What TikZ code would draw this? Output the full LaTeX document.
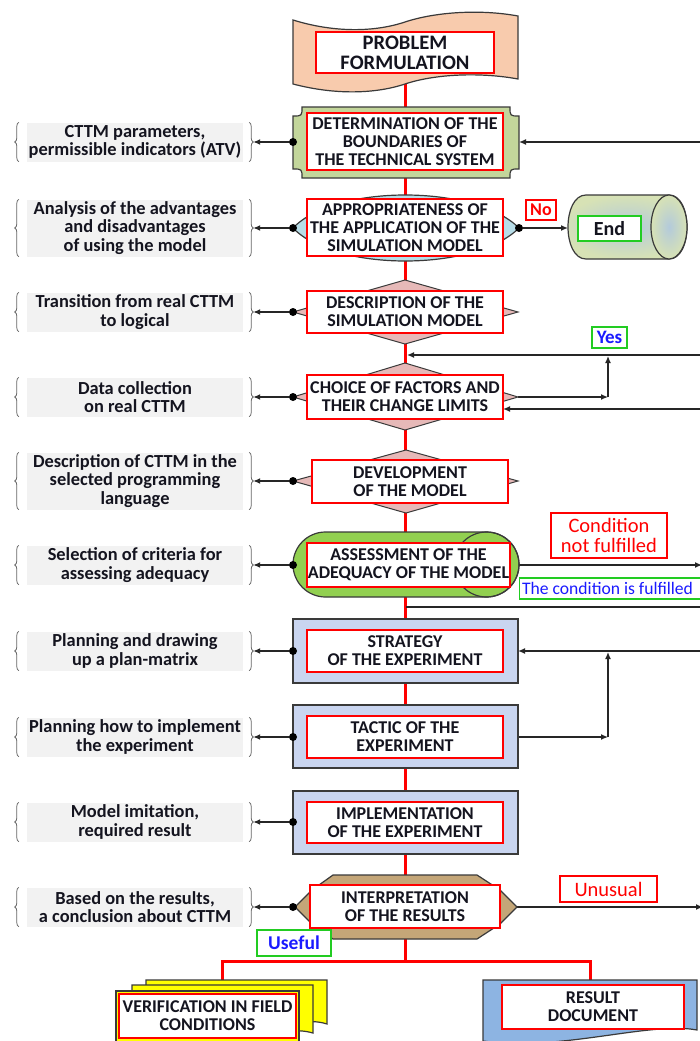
\documentclass[tikz,border=0pt]{standalone}
\usepackage{fontspec}
\setmainfont{Carlito}
\usetikzlibrary{arrows.meta,decorations.pathreplacing}
\pgfdeclarelayer{bg}
\pgfsetlayers{bg,main}
\definecolor{txt}{HTML}{14141F}
\definecolor{sidegray}{HTML}{F2F2F2}
\definecolor{peach}{HTML}{F8CBAD}
\definecolor{olivegreen}{HTML}{C3D69B}
\definecolor{lensblue}{HTML}{B7DDE8}
\definecolor{dpink}{HTML}{E6B9B8}
\definecolor{assgreen}{HTML}{92D050}
\definecolor{lav}{HTML}{C9D5F0}
\definecolor{burlap}{HTML}{C4A678}
\definecolor{docblue}{HTML}{8DB4E2}
\definecolor{endolive}{HTML}{D7E2B5}
\definecolor{endblue}{HTML}{B3CADB}
\definecolor{bord}{HTML}{3A3A3A}
\definecolor{labblue}{HTML}{1A1AFF}
\definecolor{labgreen}{HTML}{22CC22}
\definecolor{docyellow}{HTML}{FFFF00}
\newcommand{\mainfnt}{\fontsize{18}{18}\selectfont\bfseries}
\newcommand{\sidefnt}{\fontsize{18.4}{18.5}\selectfont\bfseries}
\begin{document}
\begin{tikzpicture}[x=1pt,y=-1pt,
  tb/.style={draw=red, line width=1.3pt, fill=white, inner sep=0.5pt, align=center, text=txt, font=\mainfnt, minimum width=196pt},
  side/.style={fill=sidegray, minimum width=216pt, minimum height=39pt, align=center, text=txt, inner sep=0.5pt, font=\sidefnt},
  shp/.style={draw=bord, line width=1.2pt},
  rl/.style={draw=red, line width=3pt},
  bl/.style={draw=black!85, line width=1.3pt},
  arr/.style={bl, -{Latex[length=7pt,width=6pt]}},
  dot/.style={circle, fill=black, inner sep=0pt, minimum size=8pt},
  brc/.style={decorate, decoration={brace, amplitude=4pt}, draw=black!60, line width=0.8pt},
  lab/.style={fill=white, line width=1.2pt, inner sep=2pt, align=center}
]
\useasboundingbox (0,0) rectangle (700,1041);

% ---------- shapes ----------
\draw[shp, fill=peach] (293,20) .. controls (335,33) and (375,32) .. (405,22) .. controls (435,12) and (480,9) .. (518,16) -- (518,79) .. controls (480,72) and (435,74) .. (405,84) .. controls (375,94) and (335,95) .. (293,84) -- cycle;
\draw[shp, fill=olivegreen] (302,107) -- (510,107) .. controls (510,116) .. (519,116) -- (519,169) .. controls (510,169) .. (510,178) -- (302,178) .. controls (302,169) .. (293,169) -- (293,116) .. controls (302,116) .. (302,107) -- cycle;
\draw[shp, fill=lensblue] (293,228) .. controls (335,184) and (475,184) .. (519,228) .. controls (475,272) and (335,272) .. (293,228) -- cycle;
\draw[draw=bord, line width=1pt, fill=dpink] (293,312) -- (405,280) -- (518,312) -- (405,344) -- cycle;
\draw[draw=bord, line width=1pt, fill=dpink] (293,397) -- (405,363) -- (518,397) -- (405,430) -- cycle;
\draw[draw=bord, line width=1pt, fill=dpink] (293,481) -- (406,450) -- (518,481) -- (406,513) -- cycle;
\draw[shp, fill=assgreen, rounded corners=32.5pt] (293,532) rectangle (519,597);
\draw[shp] (486.5,564.5) ellipse [x radius=32.5, y radius=32.5];
\draw[shp, inner color=endblue, outer color=endolive] (586,195) -- (669,195) .. controls (693,195) and (693,259) .. (669,259) -- (586,259) .. controls (562,259) and (562,195) .. (586,195) -- cycle;
\draw[shp, inner color=endblue, outer color=endolive] (669,227) ellipse [x radius=18, y radius=32];
\draw[shp, fill=lav] (293,619) rectangle (518,683);
\draw[shp, fill=lav] (293,705) rectangle (518,768);
\draw[shp, fill=lav] (293,791) rectangle (518,854);
\draw[shp, fill=burlap] (295,907) -- (312,890) -- (333,875) -- (477,875) -- (500,890) -- (517,907) -- (500,924) -- (477,939) -- (333,939) -- (312,924) -- cycle;
\draw[shp, fill=docyellow] (146,980) -- (327,980) -- (327,1024) .. controls (290,1012) and (250,1050) .. (146,1042) -- cycle;
\draw[shp, fill=docyellow] (132,985) -- (313,985) -- (313,1033) .. controls (275,1022) and (235,1055) .. (132,1048) -- cycle;
\draw[shp, fill=docyellow] (116,991) -- (299,991) -- (299,1050) -- (116,1050) -- cycle;
\draw[shp, fill=docblue] (483,980) -- (697,980) -- (697,1030) .. controls (650,1021) and (560,1052) .. (483,1041) -- cycle;

% ---------- main nodes ----------
\node[tb, minimum width=178pt, minimum height=41pt, font=\fontsize{20.6}{20}\selectfont\bfseries] (pf) at (405,52.5) {PROBLEM\\FORMULATION};
\node[tb, minimum height=57pt] (det) at (405,141.5) {DETERMINATION OF THE\\BOUNDARIES OF\\THE TECHNICAL SYSTEM};
\node[tb, minimum height=57pt] (app) at (405,227.5) {APPROPRIATENESS OF\\THE APPLICATION OF THE\\SIMULATION MODEL};
\node[tb, minimum height=42pt] (desc) at (405,312) {DESCRIPTION OF THE\\SIMULATION MODEL};
\node[tb, minimum height=44pt] (choice) at (405,397) {CHOICE OF FACTORS AND\\THEIR CHANGE LIMITS};
\node[tb, minimum height=43pt] (dev) at (410,481.5) {DEVELOPMENT\\OF THE MODEL};
\node[tb, minimum width=203pt, minimum height=44pt] (ass) at (408.5,565) {ASSESSMENT OF THE\\ADEQUACY OF THE MODEL};
\node[tb, minimum height=42pt] (strat) at (405,651) {STRATEGY\\OF THE EXPERIMENT};
\node[tb, minimum height=42pt] (tact) at (405,737) {TACTIC OF THE\\EXPERIMENT};
\node[tb, minimum height=41pt] (impl) at (405,822.5) {IMPLEMENTATION\\OF THE EXPERIMENT};
\node[tb, minimum width=190pt, minimum height=43pt] (interp) at (405,906.5) {INTERPRETATION\\OF THE RESULTS};
\node[tb, minimum width=177pt, minimum height=44pt] (verif) at (207.5,1016) {VERIFICATION IN FIELD\\CONDITIONS};
\node[tb, minimum width=182pt, minimum height=44pt] (res) at (593,1007) {RESULT\\DOCUMENT};
\node[draw=labgreen, line width=1.3pt, fill=white, minimum width=63pt, minimum height=25pt, inner sep=1pt, text=txt, font=\fontsize{20}{20}\selectfont\bfseries] (end) at (609.5,228.5) {End};

% ---------- side notes ----------
\node[side] (s1) at (135,142) {CTTM parameters,\\permissible indicators (ATV)};
\node[side, minimum height=57pt] (s2) at (135,228) {Analysis of the advantages\\and disadvantages\\of using the model};
\node[side] (s3) at (135,312) {Transition from real CTTM\\to logical};
\node[side] (s4) at (135,397) {Data collection\\on real CTTM};
\node[side, minimum height=57pt] (s5) at (135,481) {Description of CTTM in the\\selected programming\\language};
\node[side] (s6) at (135,565) {Selection of criteria for\\assessing adequacy};
\node[side] (s7) at (135,651) {Planning and drawing\\up a plan-matrix};
\node[side] (s8) at (135,737) {Planning how to implement\\the experiment};
\node[side] (s9) at (135,822) {Model imitation,\\required result};
\node[side] (s10) at (135,907) {Based on the results,\\a conclusion about CTTM};

\foreach \i/\y in {1/142,2/228,3/312,4/397,5/481,6/565,7/651,8/737,9/822,10/907}{
  \node[dot] (d\i) at (293,\y) {};
}
\node[dot] (appR) at (519,228) {};

% labels
\node[lab, draw=red, text=red, minimum width=30pt, minimum height=20pt, font=\fontsize{18}{18}\selectfont\bfseries] (no) at (541,210) {No};
\node[lab, draw=labgreen, text=labblue, minimum width=35pt, minimum height=21pt, font=\fontsize{19}{19}\selectfont\bfseries] (yes) at (609.5,337.5) {Yes};
\node[lab, draw=red, text=red, minimum width=116pt, minimum height=45pt, font=\fontsize{20.5}{20}\selectfont] (cnf) at (609,535.5) {Condition\\not fulfilled};
\node[lab, draw=labgreen, text=labblue, anchor=west, minimum height=21pt, inner xsep=2.5pt, font=\fontsize{17.6}{18}\selectfont] (cf) at (519,588.5) {The condition is fulfilled\hspace{8pt}};
\node[lab, draw=red, text=red, minimum width=97pt, minimum height=26pt, font=\fontsize{20.5}{20}\selectfont] (unus) at (608.5,889) {Unusual};
\node[lab, draw=labgreen, text=labblue, minimum width=74pt, minimum height=26pt, font=\fontsize{19.5}{19}\selectfont\bfseries] (usef) at (294,943) {Useful};

% coordinates
\coordinate (detR) at (519,142);
\coordinate (R142) at (702,142);
\coordinate (endL) at (568,228);
\coordinate (choiceR) at (518,397);
\coordinate (jc) at (608,397);
\coordinate (jcT) at (608,356);
\coordinate (R355) at (702,355);
\coordinate (M355) at (407,355);
\coordinate (R409) at (702,409);
\coordinate (B409) at (503,409);
\coordinate (assR) at (519,565);
\coordinate (R565) at (702,565);
\coordinate (M607) at (406,607);
\coordinate (R607) at (702,607);
\coordinate (R651) at (702,651);
\coordinate (stratR) at (518,651);
\coordinate (tactR) at (518,737);
\coordinate (jt) at (608,737);
\coordinate (jtT) at (608,652);
\coordinate (interpR) at (517,907);
\coordinate (R907) at (703,907);
\coordinate (J) at (405,961);
\coordinate (vtop) at (222,981);
\coordinate (rtop) at (590,981);

% ---------- connectors ----------
\begin{pgfonlayer}{bg}
\fill[white] (0,0) rectangle (700,1041);
\draw[rl] (pf) -- (det);
\draw[rl] (det) -- (app);
\draw[rl] (app) -- (desc);
\draw[rl] (desc) -- (choice);
\draw[rl] (choice) -- (405,460);
\draw[rl] (405,503) -- (405,543);
\draw[rl] (ass.south -| strat.north) -- (strat);
\draw[rl] (strat) -- (tact);
\draw[rl] (tact) -- (impl);
\draw[rl] (impl) -- (interp);
\draw[rl] (interp) -- (J);
\draw[rl, line join=miter] (J) -| (vtop);
\draw[rl, line join=miter] (J) -| (rtop);

\foreach \i in {1,...,10}{
  \draw[brc] ([xshift=-8pt]s\i.south west) -- ([xshift=-8pt]s\i.north west);
  \draw[brc] ([xshift=6pt]s\i.north east) -- ([xshift=6pt]s\i.south east);
  \draw[arr] (d\i) -- ([xshift=10pt]s\i.east);
}

\draw[arr] (R142) -- (detR);
\draw[arr] (appR) -- (endL);
\draw[arr] (choiceR) -- (jc);
\draw[arr] (jc) -- (jcT);
\draw[arr] (R355) -- (M355);
\draw[arr] (R409) -- (B409);
\draw[arr] (assR) -- (R565);
\draw[bl] (M607) -- (R607);
\draw[arr] (R651) -- (stratR);
\draw[arr] (tactR) -- (jt);
\draw[arr] (jt) -- (jtT);
\draw[arr] (interpR) -- (R907);
\end{pgfonlayer}
\end{tikzpicture}
\end{document}
